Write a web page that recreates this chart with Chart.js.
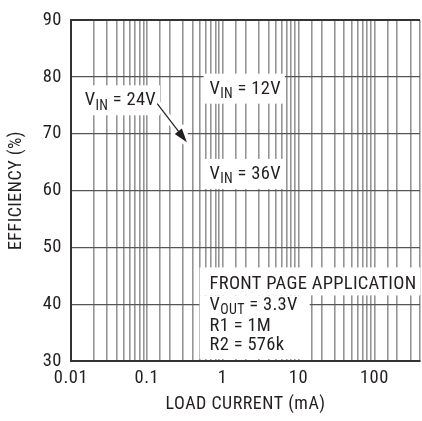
<!DOCTYPE html>
<html><head><meta charset="utf-8">
<script src="https://cdn.jsdelivr.net/npm/chart.js@4/dist/chart.umd.min.js"></script>
<style>
html,body{margin:0;padding:0;background:#fff;overflow:hidden;width:422px;height:421px}
#wrap{position:relative;width:426px;height:421px}
</style>
</head><body><div id="wrap"><canvas id="c" width="426" height="421"></canvas></div>
<script>
// ---- data (the reference shows only the grid and notes, no curves) ----
const xDecadeLabels = ['0.01', '0.1', '1', '10', '100'];
const xRange = [0.01, 400];
const yTicks = [30, 40, 50, 60, 70, 80, 90];
const xTitle = 'LOAD CURRENT (mA)';
const yTitle = 'EFFICIENCY (%)';
const curveNames = ['VIN = 12V', 'VIN = 24V', 'VIN = 36V'];
const vin12 = [];
const vin24 = [];
const vin36 = [];
const appNote = ['FRONT PAGE APPLICATION', 'VOUT = 3.3V', 'R1 = 1M', 'R2 = 576k'];

const FONT = "'Roboto Condensed','DejaVu Sans Condensed','Liberation Sans',sans-serif";
const INK = '#231f20';

const notes = {
  id: 'notes',
  beforeDraw(chart) { chart.ctx.letterSpacing = '0.5px'; },
  afterDraw(chart) {
    const { ctx, scales: { x, y }, chartArea } = chart;
    const X = v => x.getPixelForValue(v), Y = v => y.getPixelForValue(v);
    ctx.save();
    ctx.letterSpacing = '0.3px';
    const main = '18.5px ' + FONT, sub = '14px ' + FONT;
    const widthOf = (m, s, r) => {
      ctx.font = main; let w = ctx.measureText(m).width + ctx.measureText(r).width;
      ctx.font = sub; w += s ? ctx.measureText(s).width : 0; return w;
    };
    const drawSub = (m, s, r, x0, base) => {
      ctx.fillStyle = INK; ctx.textBaseline = 'alphabetic'; ctx.textAlign = 'left';
      ctx.font = main; ctx.fillText(m, x0, base); x0 += ctx.measureText(m).width;
      if (s) { ctx.font = sub; ctx.fillText(s, x0, base + 4.5); x0 += ctx.measureText(s).width; }
      ctx.font = main; ctx.fillText(r, x0, base);
    };
    const split = t => t.startsWith('V') && (t[1] === 'I' || t[1] === 'O')
      ? ['V', t.slice(1, t.indexOf(' ')), t.slice(t.indexOf(' '))] : [t, '', ''];

    // curve labels
    const labs = [
      { t: curveNames[1], xv: 0.0152, yv: 75.0 },
      { t: curveNames[0], xv: 0.672, yv: 77.05 },
      { t: curveNames[2], xv: 0.672, yv: 62.05 },
    ];
    labs.forEach(l => {
      const [m, s, r] = split(l.t);
      const px = X(l.xv), py = Y(l.yv), w = widthOf(m, s, r);
      ctx.fillStyle = '#fff';
      ctx.fillRect(px - 6, py - 20, w + 10, 30);
    });
    // application note box
    const ax = X(0.672), b0 = Y(42.6);
    const lineBases = [42.6, 39.0, 35.3, 31.9].map(Y);
    const ws = appNote.map(t => { const [m, s, r] = split(t); return widthOf(m, s, r); });
    ctx.fillStyle = '#fff';
    ctx.fillRect(ax - 10, b0 - 22, ws[0] + 14, 28);
    ctx.fillRect(ax - 10, b0 + 6, Math.max(...ws.slice(1)) + 22, chartArea.bottom - 2 - (b0 + 6));

    // arrow with white halo
    const ax0 = X(0.137), ay0 = Y(75.3), ax1 = X(0.337), ay1 = Y(68.5);
    const ang = Math.atan2(ay1 - ay0, ax1 - ax0);
    const head = (len, half) => {
      ctx.beginPath();
      ctx.moveTo(ax1, ay1);
      ctx.lineTo(ax1 - len * Math.cos(ang) + half * Math.sin(ang), ay1 - len * Math.sin(ang) - half * Math.cos(ang));
      ctx.lineTo(ax1 - len * Math.cos(ang) - half * Math.sin(ang), ay1 - len * Math.sin(ang) + half * Math.cos(ang));
      ctx.closePath();
    };
    ctx.strokeStyle = '#fff'; ctx.lineWidth = 7; ctx.lineJoin = 'round';
    ctx.beginPath(); ctx.moveTo(ax0, ay0); ctx.lineTo(ax1, ay1); ctx.stroke();
    head(14, 5); ctx.fillStyle = '#fff'; ctx.fill(); ctx.stroke();
    ctx.strokeStyle = INK; ctx.lineWidth = 1.2;
    ctx.beginPath(); ctx.moveTo(ax0, ay0); ctx.lineTo(ax1 - 8 * Math.cos(ang), ay1 - 8 * Math.sin(ang)); ctx.stroke();
    head(14, 4.5); ctx.fillStyle = INK; ctx.fill();

    // texts
    labs.forEach(l => { const [m, s, r] = split(l.t); drawSub(m, s, r, X(l.xv), Y(l.yv)); });
    appNote.forEach((t, i) => { const [m, s, r] = split(t); drawSub(m, s, r, ax, lineBases[i]); });
    ctx.restore();
    ctx.letterSpacing = '0px';
  }
};

const isDecade = v => Math.abs(Math.log10(v) - Math.round(Math.log10(v))) < 1e-6;

new Chart(document.getElementById('c'), {
  type: 'scatter',
  data: {
    datasets: [
      { label: curveNames[0], data: vin12, showLine: true, borderColor: INK, pointRadius: 0 },
      { label: curveNames[1], data: vin24, showLine: true, borderColor: INK, pointRadius: 0 },
      { label: curveNames[2], data: vin36, showLine: true, borderColor: INK, pointRadius: 0 },
    ]
  },
  options: {
    responsive: false, animation: false, devicePixelRatio: 1,
    layout: { padding: { top: 9, right: 2, left: 0, bottom: 0 } },
    plugins: { legend: { display: false }, tooltip: { enabled: false } },
    scales: {
      x: {
        type: 'logarithmic', min: xRange[0], max: xRange[1],
        afterFit: s => { s.height = 60; },
        grid: { color: '#959595', lineWidth: 1.6, drawTicks: false },
        border: { color: '#333', width: 2 },
        ticks: {
          autoSkip: false, maxRotation: 0, padding: 6, color: INK,
          font: { size: 18.5, family: FONT },
          callback: v => {
            if (!isDecade(v)) return '';
            const i = Math.round(Math.log10(v)) + 2;
            return xDecadeLabels[i] ?? '';
          }
        },
        title: { display: true, text: xTitle, color: INK, font: { size: 18, family: FONT }, padding: { top: 0, bottom: 6 } }
      },
      y: {
        min: yTicks[0], max: yTicks[yTicks.length - 1],
        afterFit: s => { s.width = 71; },
        afterBuildTicks: s => { s.ticks = yTicks.map(v => ({ value: v })); },
        grid: {
          drawTicks: false,
          color: c => c.tick && c.tick.value === 90 ? '#333' : '#555',
          lineWidth: c => c.tick && c.tick.value === 90 ? 2 : 1.2
        },
        border: { color: '#333', width: 2 },
        ticks: { padding: 9, color: INK, font: { size: 18.5, family: FONT } },
        title: { display: true, text: yTitle, color: INK, font: { size: 18, family: FONT }, padding: { top: 6, bottom: 0 } }
      }
    }
  },
  plugins: [notes]
});
</script>
</body></html>
